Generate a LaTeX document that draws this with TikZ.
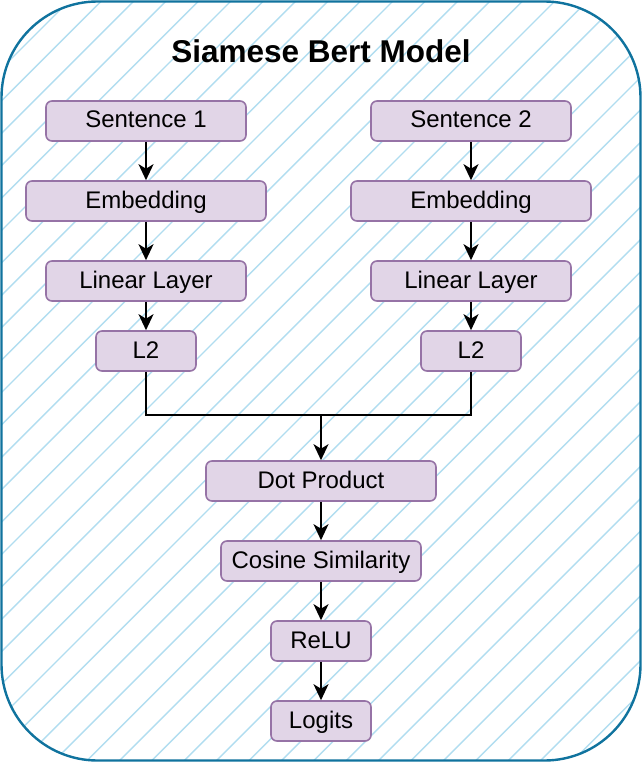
\documentclass[tikz,border=0pt]{standalone}
\usepackage{fontspec}
\setmainfont{Liberation Sans}
\usetikzlibrary{arrows.meta}

\definecolor{boxfill}{HTML}{E1D5E7}
\definecolor{boxline}{HTML}{9673A6}
\definecolor{frameline}{HTML}{10739E}
\definecolor{hatchline}{HTML}{B1DDF0}

\begin{document}
\begin{tikzpicture}[x=1pt, y=-1pt,
  layer/.style={draw=boxline, fill=boxfill, line width=1.6pt, rounded corners=6pt,
    minimum height=40pt, inner sep=0pt, text height=18pt, text depth=4pt,
    font=\fontsize{24}{27}\selectfont},
  hatch/.style={hatchline, line width=1.4pt},
  link/.style={line width=2pt, black},
  arrow/.style={link, -{Stealth[length=16pt, width=15pt, inset=4.5pt]}}]
\useasboundingbox (0,0) rectangle (642,762);

% frame with hatching
\fill[white, rounded corners=96pt] (1.5,1.5) rectangle (640.5,760.5);
\begin{scope}
\clip[rounded corners=96pt] (1.5,1.5) rectangle (640.5,760.5);
\foreach \k in {-28,...,17}
  \draw[hatch] ({880+32.4*\k},0) -- (0,{880+32.4*\k});
\end{scope}
\draw[frameline, line width=2.4pt, rounded corners=96pt] (1.5,1.5) rectangle (640.5,760.5);

\node[anchor=base, font=\bfseries\fontsize{31.5}{34}\selectfont] (title) at (321,62.3) {Siamese Bert Model};

% left branch
\node[layer, minimum width=200pt] (sentA) at (146,121) {Sentence 1};
\node[layer, minimum width=240pt] (embA) at (146,201) {Embedding};
\node[layer, minimum width=200pt] (linA) at (146,281) {Linear Layer};
\node[layer, minimum width=100pt] (normA) at (146,351) {L2};

% right branch
\node[layer, minimum width=200pt] (sentB) at (471,121) {Sentence 2};
\node[layer, minimum width=240pt] (embB) at (471,201) {Embedding};
\node[layer, minimum width=200pt] (linB) at (471,281) {Linear Layer};
\node[layer, minimum width=100pt] (normB) at (471,351) {L2};

% head
\node[layer, minimum width=230pt] (dot) at (321,481) {Dot Product};
\node[layer, minimum width=200pt] (cosine) at (321,561) {Cosine Similarity};
\node[layer, minimum width=100pt] (relu) at (321,641) {ReLU};
\node[layer, minimum width=100pt] (logits) at (321,721) {Logits};

\coordinate (merge) at (321,415);

\draw[arrow] (sentA) -- (embA);
\draw[arrow] (embA) -- (linA);
\draw[arrow] (linA) -- (normA);
\draw[arrow] (sentB) -- (embB);
\draw[arrow] (embB) -- (linB);
\draw[arrow] (linB) -- (normB);
\draw[link] (normA.south) |- (merge) -| (normB.south);
\draw[arrow] (merge) -- (dot);
\draw[arrow] (dot) -- (cosine);
\draw[arrow] (cosine) -- (relu);
\draw[arrow] (relu) -- (logits);
\end{tikzpicture}
\end{document}
